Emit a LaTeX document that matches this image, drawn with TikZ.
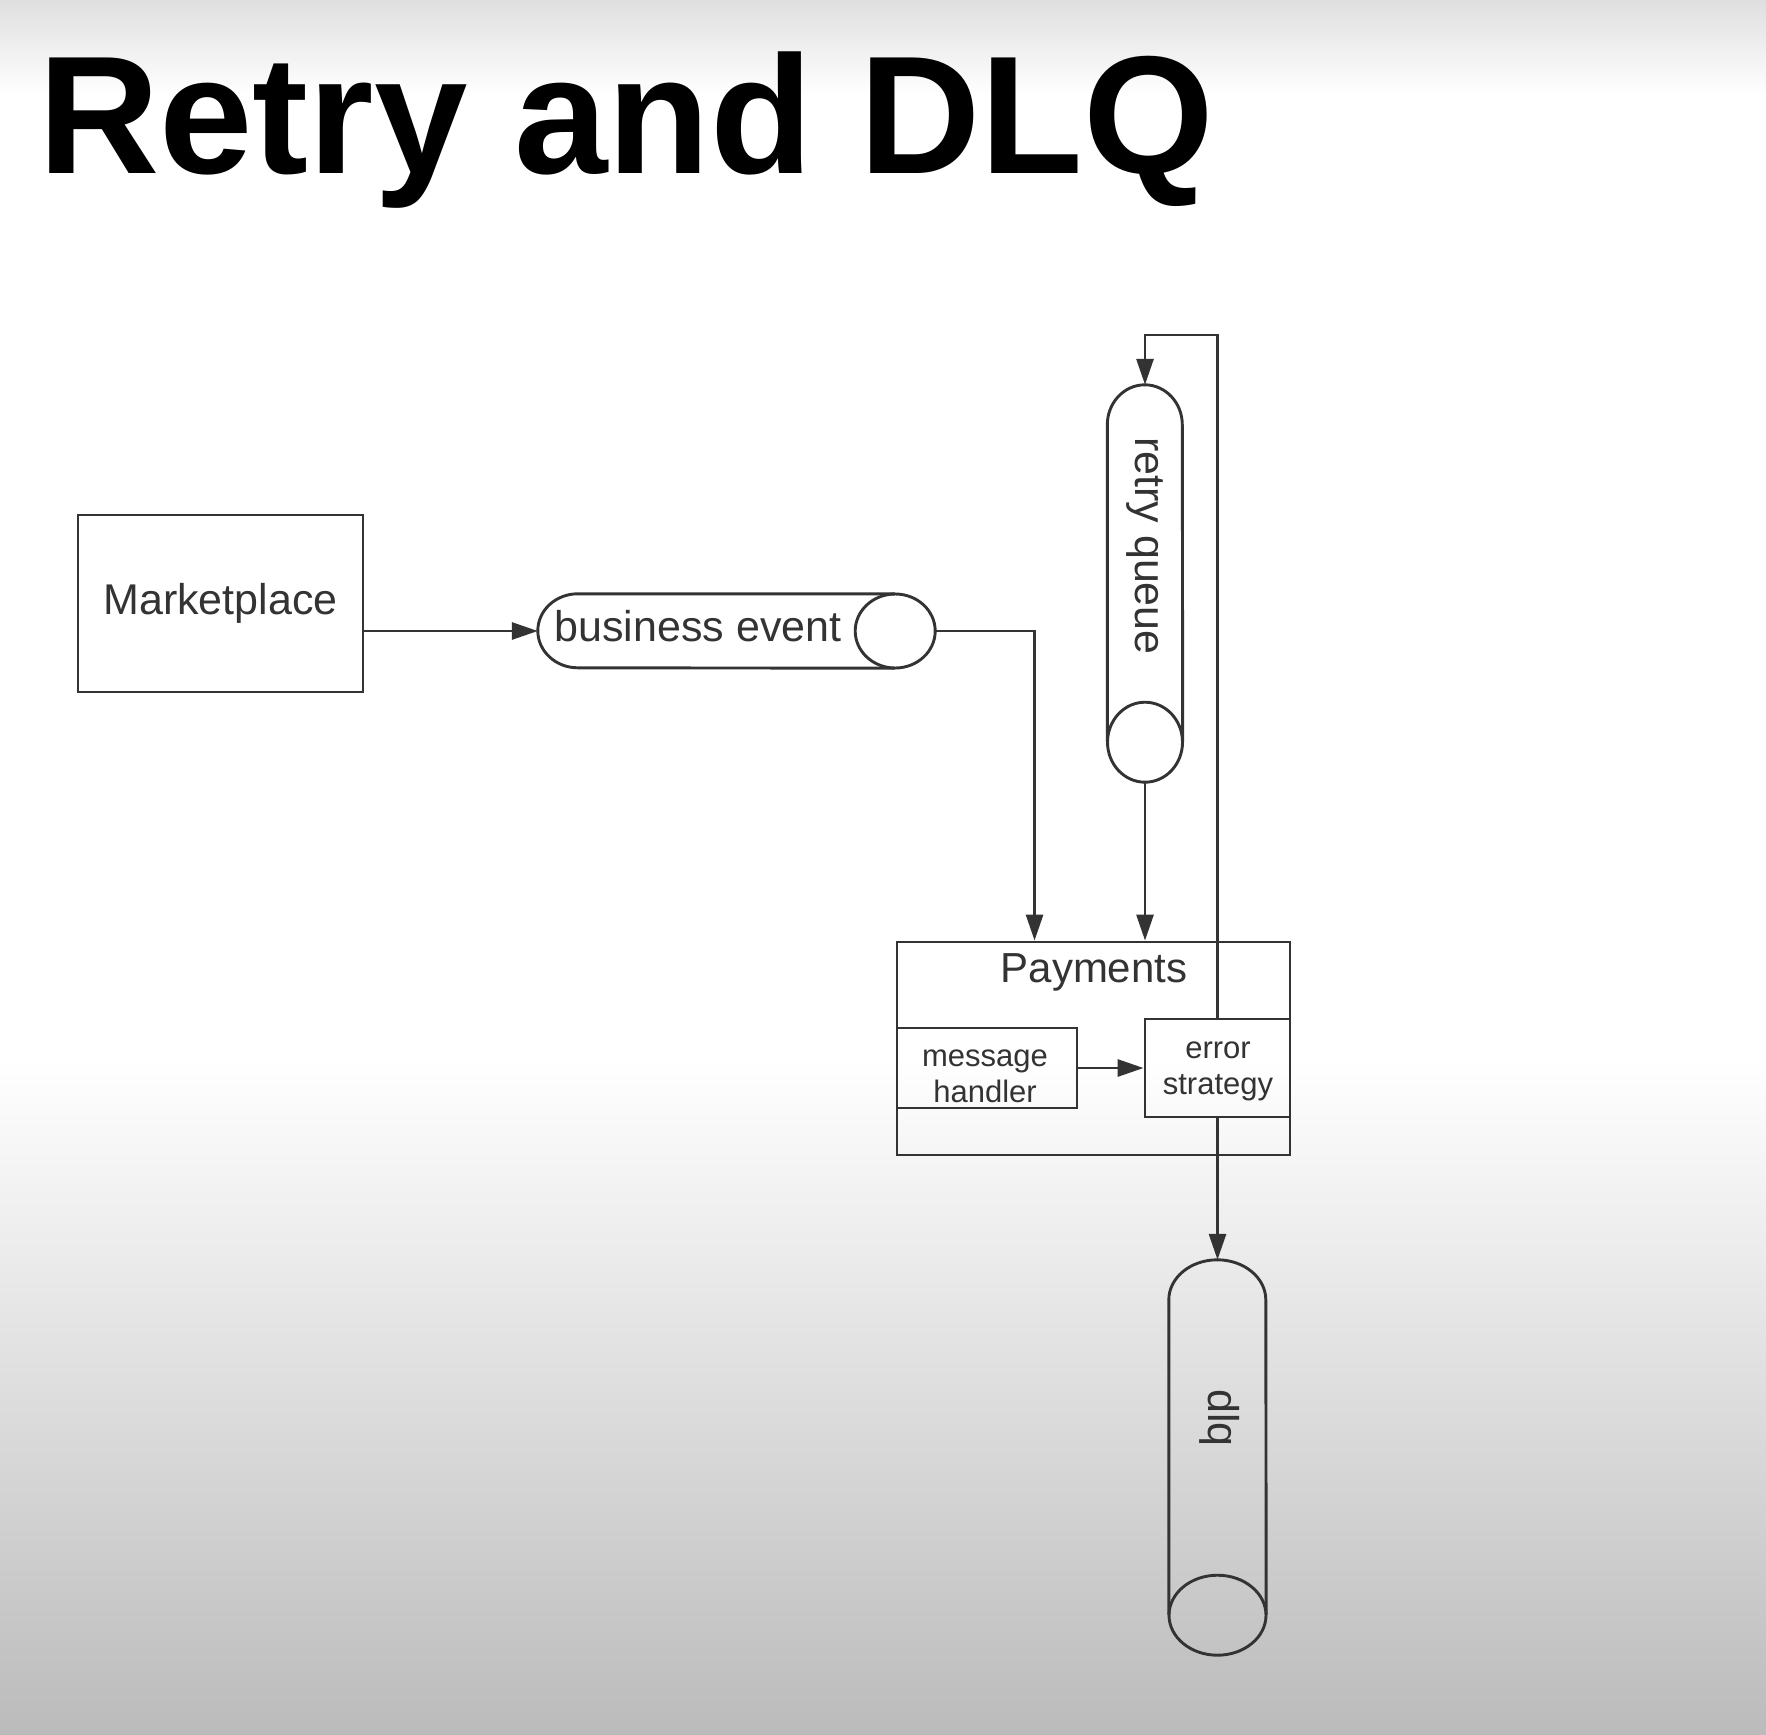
\documentclass[tikz,border=0pt]{standalone}
\usepackage{fontspec}
\setmainfont{Liberation Sans}
\usetikzlibrary{arrows.meta}
\definecolor{ink}{HTML}{333333}
\definecolor{topgray}{HTML}{DFDFDF}
\definecolor{botgray}{HTML}{BBBBBB}
\begin{document}
\begin{tikzpicture}[x=1pt,y=-1pt,
  line/.style={draw=ink, line width=2.9pt},
  arr/.style={line, -{Triangle[length=26pt,width=17pt]}},
  box/.style={line, rectangle, inner sep=0pt, text=ink},
  holder/.style={rectangle, inner sep=0pt},
  lbl/.style={text=ink, inner sep=0pt, font=\fontsize{43}{50}\selectfont},
  small/.style={text=ink, inner sep=0pt, align=center, font=\fontsize{31}{36}\selectfont}]
% background
\useasboundingbox (0,0) rectangle (1766,1734);
\fill[white] (0,0) rectangle (1766,1734);
\shade[top color=topgray, bottom color=white] (0,0) rectangle (1766,95);
\shade[top color=white, bottom color=botgray] (0,1060) rectangle (1766,1734);
% title
\node[anchor=base west, inner sep=0pt, font=\fontsize{168}{168}\selectfont\bfseries] (title) at (38,173) {Retry and DLQ};
% marketplace
\node[box, lbl, minimum width=285pt, minimum height=177pt] (mp) at (220.5,603.5) {Marketplace};
% business event cylinder
\node[holder, minimum width=397pt, minimum height=74pt] (be) at (736.5,631) {};
\draw[line] ([xshift=-40pt]be.north east) -- ([xshift=40pt]be.north west)
  arc[start angle=90, end angle=270, x radius=40pt, y radius=37pt] -- ([xshift=-40pt]be.south east);
\draw[line] ([xshift=-40pt]be.east) ellipse[x radius=40pt, y radius=37pt];
\node[lbl] (betext) at (698,626) {business event};
% retry queue cylinder
\node[holder, minimum width=75pt, minimum height=397pt] (rq) at (1145,583.5) {};
\draw[line] ([yshift=40pt]rq.south west) -- ([yshift=-40pt]rq.north west)
  arc[start angle=180, end angle=0, x radius=37.5pt, y radius=40pt] -- ([yshift=40pt]rq.south east);
\draw[line] ([yshift=40pt]rq.south) ellipse[x radius=37.5pt, y radius=40pt];
\node[lbl, rotate=-90] (rqtext) at (1145,546) {retry queue};
% payments
\node[box, minimum width=393pt, minimum height=213pt] (pay) at (1093.5,1048.5) {};
\node[lbl, font=\fontsize{42}{50}\selectfont] (paytitle) at (1094,972) {Payments};
\node[box, minimum width=180pt, minimum height=80pt] (mh) at (987,1068) {};
\node[small] (mhtext) at (985,1076) {message\\handler};
\node[box, minimum width=145pt, minimum height=98pt] (es) at (1217.5,1068) {};
\node[small] (estext) at (1218,1071) {error\\strategy};
% dlq cylinder
\node[holder, minimum width=97pt, minimum height=395pt] (dlq) at (1217.5,1457.5) {};
\draw[line] ([yshift=40pt]dlq.south west) -- ([yshift=-40pt]dlq.north west)
  arc[start angle=180, end angle=0, x radius=48.5pt, y radius=40pt] -- ([yshift=40pt]dlq.south east);
\draw[line] ([yshift=40pt]dlq.south) ellipse[x radius=48.5pt, y radius=40pt];
\node[lbl, rotate=-90] (dlqtext) at (1220,1418) {dlq};
% connectors
\coordinate (looptop) at (1217.5,335);
\draw[arr] (mp.east |- be.west) -- (be.west);
\draw[arr] (be.east) -| ([xshift=139pt]pay.north west);
\draw[arr] (rq.south) -- (rq.south |- pay.north);
\draw[arr] (mh.east) -- (es.west);
\draw[arr] (es.north) -- (looptop) -| (rq.north);
\draw[arr] (es.south) -- (dlq.north);
\end{tikzpicture}
\end{document}
